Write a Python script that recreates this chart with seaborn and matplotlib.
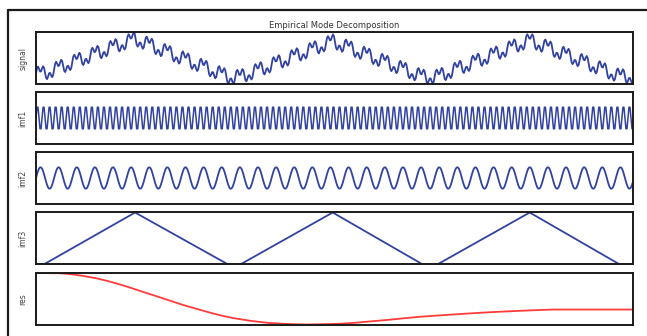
import numpy as np
import pandas as pd
import seaborn as sns
import matplotlib.pyplot as plt
from matplotlib.lines import Line2D

# ---- data ----
# one cycle of each oscillating mode (samples), repeated across the record
imf1_cycle = [0.0, 0.87, 0.87, 0.0, -0.87, -0.87]
imf2_cycle = [0.0, 0.34, 0.64, 0.87, 0.98, 0.98, 0.87, 0.64, 0.34,
              0.0, -0.34, -0.64, -0.87, -0.98, -0.98, -0.87, -0.64, -0.34]
imf1_cycles = 99
imf2_cycles = 33

# imf3: triangle wave corners (x as fraction of the record, y value)
imf3_x = [0.0, 0.015, 0.166, 0.322, 0.342, 0.497, 0.648, 0.672, 0.827, 0.978, 1.0]
imf3_y = [-1.0, -0.97, 1.0, -1.0, -1.0, 1.0, -1.0, -1.0, 1.0, -1.0, -1.0]

# residue: slow trend
res_x = [0.0, 0.04, 0.06, 0.078, 0.10, 0.12, 0.14, 0.162, 0.18, 0.203,
         0.225, 0.246, 0.27, 0.29, 0.31, 0.33, 0.36, 0.39, 0.42, 0.45,
         0.48, 0.51, 0.531, 0.56, 0.59, 0.62, 0.643, 0.68, 0.72, 0.755,
         0.79, 0.83, 0.866, 0.93, 1.0]
res_y = [1.0, 0.995, 0.975, 0.945, 0.90, 0.845, 0.78, 0.70, 0.63, 0.545,
         0.46, 0.38, 0.30, 0.235, 0.175, 0.125, 0.07, 0.03, 0.01, 0.0,
         0.005, 0.015, 0.03, 0.06, 0.09, 0.125, 0.15, 0.18, 0.21, 0.235,
         0.255, 0.275, 0.29, 0.29, 0.29]

imf1_amp = 0.22
imf2_amp = 0.3
res_scale = 0.2

labels = ["signal", "imf1", "imf2", "imf3", "res"]
title = "Empirical Mode Decomposition"

# ---- build the record on a common sample grid ----
imf1 = np.tile(imf1_cycle, imf1_cycles) * imf1_amp
imf2 = np.tile(imf2_cycle, imf2_cycles) * imf2_amp
n = len(imf1)
t = np.arange(n) / (n - 1)
imf3_s = np.interp(t, imf3_x, imf3_y)
res_s = np.interp(t, res_x, res_y) * res_scale
signal = imf1 + imf2 + imf3_s + res_s

df = pd.DataFrame({"t": t, "signal": signal, "imf1": imf1, "imf2": imf2})

sns.set_theme(style="white")
plt.rcParams["font.family"] = ["DejaVu Sans"]

fig = plt.figure(figsize=(6.47, 3.36), dpi=100)
W, H = 647, 336
tops = [32, 92, 152, 212, 273]
ph = 52
axes = [fig.add_axes([36 / W, 1 - (tp + ph) / H, 597 / W, ph / H]) for tp in tops]

blue = "#3242a0"
red = "#ff3b3b"
lw = 1.3

sns.lineplot(data=df, x="t", y="signal", ax=axes[0], color=blue, linewidth=lw)
sns.lineplot(data=df, x="t", y="imf1", ax=axes[1], color=blue, linewidth=1.1)
sns.lineplot(data=df, x="t", y="imf2", ax=axes[2], color=blue, linewidth=lw)
sns.lineplot(x=imf3_x, y=imf3_y, ax=axes[3], color=blue, linewidth=lw)
sns.lineplot(x=res_x, y=res_y, ax=axes[4], color=red, linewidth=lw)

axes[0].set_ylim(signal.min() - 0.02, signal.max() + 0.02)
axes[1].set_ylim(-imf1_amp * 2.1, imf1_amp * 2.1)
axes[2].set_ylim(-imf2_amp * 2.4, imf2_amp * 2.4)
axes[3].set_ylim(-0.98, 1.02)
axes[4].set_ylim(-0.01, 1.0)

for ax, lab in zip(axes, labels):
    ax.set_xlim(0, 1)
    ax.set_xticks([])
    ax.set_yticks([])
    ax.set_xlabel("")
    ax.set_ylabel(lab, fontsize=5.5, color="#444444", labelpad=6)
    for sp in ax.spines.values():
        sp.set_visible(True)
        sp.set_color("#1a1a1a")
        sp.set_linewidth(1.4)

axes[0].set_title(title, fontsize=6, color="#333333", pad=3)

# outer frame lines (top and left)
fig.add_artist(Line2D([8 / W, 1], [1 - 10 / H, 1 - 10 / H], color="#1a1a1a", linewidth=1.6))
fig.add_artist(Line2D([8 / W, 8 / W], [0, 1 - 10 / H], color="#1a1a1a", linewidth=1.6))

fig.savefig("out.png", dpi=100, facecolor="white")
